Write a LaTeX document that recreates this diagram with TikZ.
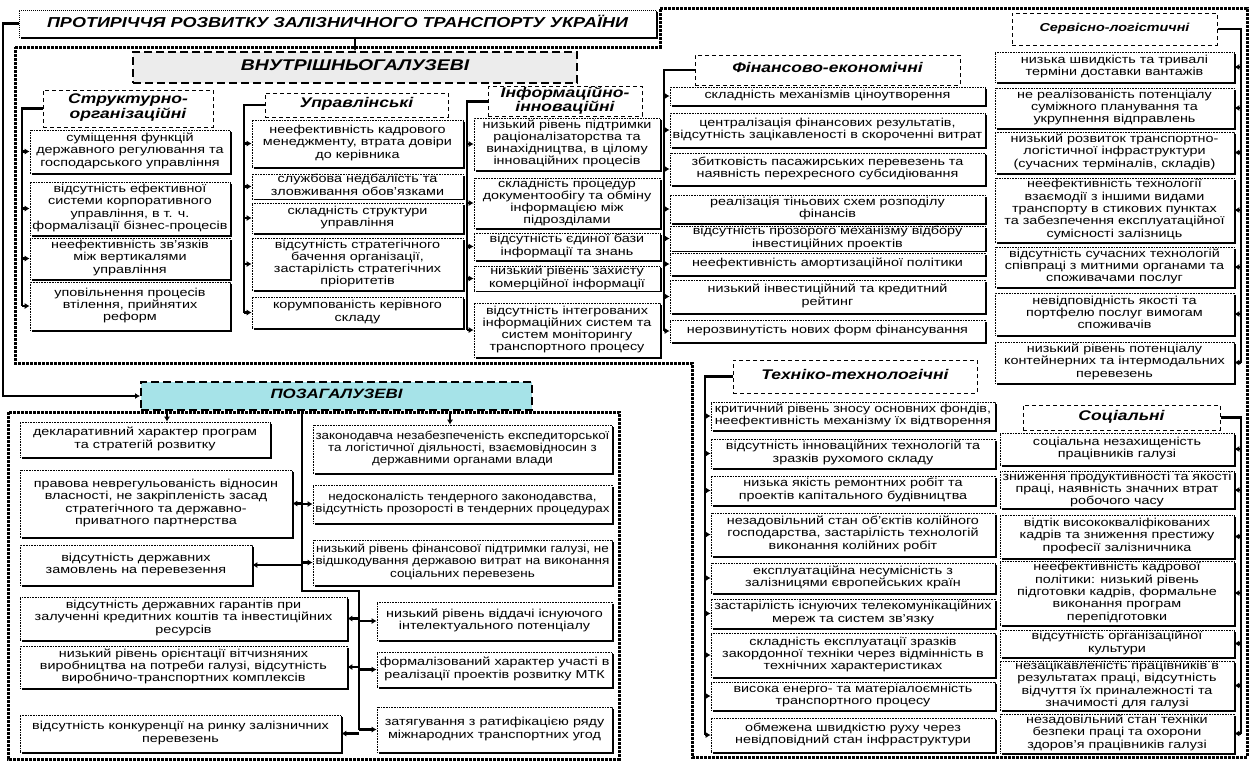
\documentclass[tikz,border=0pt]{standalone}
\usepackage{fontspec}
\setmainfont{Liberation Sans}[FakeStretch=1.25]
\usepackage{graphicx}
\usetikzlibrary{arrows.meta,shadows}
\pgfdeclarelayer{background}
\pgfsetlayers{background,main}
\definecolor{vgray}{HTML}{ECECEC}
\definecolor{pcyan}{HTML}{A6E3E8}
\newcommand\itf{\fontsize{11.5}{12.3}\selectfont}
\newcommand\hdf{\fontsize{14}{14.5}\selectfont\bfseries\itshape}
\newcommand\srvf{\fontsize{11.5}{12}\selectfont\bfseries\itshape}
\newcommand\ttf{\fontsize{14.4}{15}\selectfont\bfseries\itshape}
\newcommand\vf{\fontsize{15.5}{16}\selectfont\bfseries\itshape}
\newcommand\zf{\fontsize{13.5}{14}\selectfont\bfseries\itshape}
\newsavebox\fitsbox
\newdimen\fitw
\newcommand\fitt[2]{\fitw=#1\relax\sbox\fitsbox{\begin{tabular}{@{}c@{}}#2\end{tabular}}\ifdim\wd\fitsbox>\fitw\resizebox{\fitw}{\height}{\usebox\fitsbox}\else\usebox\fitsbox\fi}
\newcommand\bx[7][]{\node[itembox,minimum width={#5pt-#3pt},minimum height={#6pt-#4pt},#1] (#2) at ({(#3+#5)/2},{(#4+#6)/2}) {\fitt{\dimexpr#5pt-#3pt-5pt\relax}{#7}};}
\newcommand\hdr[7][]{\node[hdrbox,minimum width={#5pt-#3pt},minimum height={#6pt-#4pt},#1] (#2) at ({(#3+#5)/2},{(#4+#6)/2}) {\fitt{\dimexpr#5pt-#3pt-4pt\relax}{#7}};}
\tikzset{
  conn/.style={line width=2.6pt, black},
  arr/.style={conn, -{Latex[length=5pt,width=6pt]}},
  frame/.style={line width=3pt, dash pattern=on 3pt off 1pt, black},
  itembox/.style={draw, densely dotted, line width=0.6pt, fill=white, inner sep=0pt, font=\itf,
    drop shadow={shadow xshift=1.6pt, shadow yshift=-1.6pt, fill=black, opacity=1}},
  hdrbox/.style={draw, line width=1pt, dash pattern=on 4pt off 3pt, fill=white, inner sep=0pt, font=\hdf},
  titlebox/.style={densely dotted, line width=0.6pt, font=\ttf,
    drop shadow={shadow xshift=1.6pt, shadow yshift=-1.6pt, fill=black, opacity=1}},
  mainbox/.style={line width=2pt, dash pattern=on 8pt off 4pt},
}
\begin{document}
\begin{tikzpicture}[x=1pt,y=-1pt]
\begin{pgfonlayer}{background}
\fill[white] (0,0) rectangle (1252,761);
\end{pgfonlayer}
\useasboundingbox (0,0) rectangle (1252,761);

% frames
\draw[frame] (15,47) -- (660,47) -- (660,8) -- (1247,8) -- (1247,757) -- (692,757) -- (692,363) -- (15,363) -- cycle;
\draw[frame] (8,412) rectangle (619,759);

% title and main groups
\hdr[titlebox]{T}{19}{10}{656}{37}{ПРОТИРІЧЧЯ РОЗВИТКУ ЗАЛІЗНИЧНОГО ТРАНСПОРТУ УКРАЇНИ}
\hdr[mainbox,fill=vgray,font=\vf]{V}{133}{52}{577}{83}{ВНУТРІШНЬОГАЛУЗЕВІ}
\hdr[mainbox,fill=pcyan,font=\zf]{Z}{141}{382}{532}{410}{ПОЗАГАЛУЗЕВІ}

% headers
\hdr{S0}{43}{90}{213}{127}{Структурно-\\організаційні}
\hdr{U0}{265}{93}{448}{117}{Управлінські}
\hdr{I0}{488}{88}{642}{115}{Інформаційно-\\інноваційні}
\hdr{F0}{695}{55}{960}{85}{Фінансово-економічні}
\hdr[font=\srvf]{R0}{1012}{13}{1217}{45}{Сервісно-логістичні}
\hdr{K0}{733}{360}{977}{393}{Техніко-технологічні}
\hdr{C0}{1023}{405}{1220}{430}{Соціальні}

% structural
\bx{S1}{30}{130}{230}{173}{суміщення функцій\\державного регулювання та\\господарського управління}
\bx{S2}{30}{182}{230}{235}{відсутність ефективної\\системи корпоративного\\управління, в т. ч.\\формалізації бізнес-процесів}
\bx{S3}{30}{238}{230}{279}{неефективність зв’язків\\між вертикалями\\управління}
\bx{S4}{30}{282}{230}{330}{уповільнення процесів\\втілення, прийнятих\\реформ}

% management
\bx{U1}{252}{120}{463}{167}{неефективність кадрового\\менеджменту, втрата довіри\\до керівника}
\bx{U2}{252}{175}{463}{198}{службова недбалість та\\зловживання обов’язками}
\bx{U3}{252}{203}{463}{233}{складність структури\\управління}
\bx{U4}{252}{238}{463}{290}{відсутність стратегічного\\бачення організації,\\застарілість стратегічних\\пріоритетів}
\bx{U5}{252}{297}{463}{328}{корумпованість керівного\\складу}

% info
\bx{I1}{474}{118}{660}{170}{низький рівень підтримки\\раціоналізаторства та\\винахідництва, в цілому\\інноваційних процесів}
\bx{I2}{474}{178}{660}{228}{складність процедур\\документообігу та обміну\\інформацією між\\підрозділами}
\bx{I3}{474}{233}{660}{260}{відсутність єдиної бази\\інформації та знань}
\bx{I4}{474}{267}{660}{290}{низький рівень захисту\\комерційної інформації}
\bx{I5}{474}{303}{660}{357}{відсутність інтегрованих\\інформаційних систем та\\систем моніторингу\\транспортного процесу}

% finance
\bx{F1}{670}{87}{985}{105}{складність механізмів ціноутворення}
\bx{F2}{670}{113}{985}{147}{централізація фінансових результатів,\\відсутність зацікавленості в скороченні витрат}
\bx{F3}{670}{153}{985}{185}{збитковість пасажирських перевезень та\\наявність перехресного субсидіювання}
\bx{F4}{670}{195}{985}{223}{реалізація тіньових схем розподілу\\фінансів}
\bx{F5}{670}{227}{985}{250}{відсутність прозорого механізму відбору\\інвестиційних проектів}
\bx{F6}{670}{253}{985}{275}{неефективність амортизаційної політики}
\bx{F7}{670}{280}{985}{313}{низький інвестиційний та кредитний\\рейтинг}
\bx{F8}{670}{320}{985}{342}{нерозвинутість нових форм фінансування}

% service
\bx{R1}{995}{52}{1234}{82}{низька швидкість та тривалі\\терміни доставки вантажів}
\bx{R2}{995}{88}{1234}{128}{не реалізованість потенціалу\\суміжного планування та\\укрупнення відправлень}
\bx{R3}{995}{132}{1234}{173}{низький розвиток транспортно-\\логістичної інфраструктури\\(сучасних терміналів, складів)}
\bx{R4}{995}{178}{1234}{242}{неефективність технології\\взаємодії з іншими видами\\транспорту в стикових пунктах\\та забезпечення експлуатаційної\\сумісності залізниць}
\bx{R5}{995}{247}{1234}{287}{відсутність сучасних технологій\\співпраці з митними органами та\\споживачами послуг}
\bx{R6}{995}{293}{1234}{335}{невідповідність якості та\\портфелю послуг вимогам\\споживачів}
\bx{R7}{995}{342}{1234}{383}{низький рівень потенціалу\\контейнерних та інтермодальних\\перевезень}

% technical
\bx{K1}{711}{402}{995}{430}{критичний рівень зносу основних фондів,\\неефективність механізму їх відтворення}
\bx{K2}{711}{439}{995}{468}{відсутність інноваційних технологій та\\зразків рухомого складу}
\bx{K3}{711}{476}{995}{505}{низька якість ремонтних робіт та\\проектів капітального будівництва}
\bx{K4}{711}{513}{995}{556}{незадовільний стан об’єктів колійного\\господарства, застарілість технологій\\виконання колійних робіт}
\bx{K5}{711}{563}{995}{593}{експлуатаційна несумісність з\\залізницями європейських країн}
\bx{K6}{711}{599}{995}{628}{застарілість існуючих телекомунікаційних\\мереж та систем зв’язку}
\bx{K7}{711}{633}{995}{677}{складність експлуатації зразків\\закордонної техніки через відмінність в\\технічних характеристиках}
\bx{K8}{711}{682}{995}{710}{висока енерго- та матеріалоємність\\транспортного процесу}
\bx{K9}{711}{718}{995}{752}{обмежена швидкістю руху через\\невідповідний стан інфраструктури}

% social
\bx{C1}{1000}{433}{1234}{465}{соціальна незахищеність\\працівників галузі}
\bx{C2}{1000}{472}{1234}{508}{зниження продуктивності та якості\\праці, наявність значних втрат\\робочого часу}
\bx{C3}{1000}{515}{1234}{558}{відтік висококваліфікованих\\кадрів та зниження престижу\\професії залізничника}
\bx{C4}{1000}{561}{1234}{625}{неефективність кадрової\\політики: низький рівень\\підготовки кадрів, формальне\\виконання програм\\перепідготовки}
\bx{C5}{1000}{630}{1234}{657}{відсутність організаційної\\культури}
\bx{C6}{1000}{661}{1234}{710}{незацікавленість працівників в\\результатах праці, відсутність\\відчуття їх приналежності та\\значимості для галузі}
\bx{C7}{1000}{714}{1234}{753}{незадовільний стан техніки\\безпеки праці та охорони\\здоров’я працівників галузі}

% external left
\bx{E1}{20}{422}{270}{457}{декларативний характер програм\\та стратегій розвитку}
\bx{E2}{20}{470}{292}{537}{правова неврегульованість відносин\\власності, не закріпленість засад\\стратегічного та державно-\\приватного партнерства}
\bx{E3}{20}{545}{252}{585}{відсутність державних\\замовлень на перевезення}
\bx{E4}{20}{597}{347}{640}{відсутність державних гарантів при\\залученні кредитних коштів та інвестиційних\\ресурсів}
\bx{E5}{20}{646}{347}{688}{низький рівень орієнтації вітчизняних\\виробництва на потреби галузі, відсутність\\виробничо-транспортних комплексів}
\bx{E6}{20}{715}{341}{752}{відсутність конкуренції на ринку залізничних\\перевезень}

% external right
\bx{P1}{313}{425}{612}{473}{законодавча незабезпеченість експедиторської\\та логістичної діяльності, взаємовідносин з\\державними органами влади}
\bx{P2}{313}{485}{612}{523}{недосконалість тендерного законодавства,\\відсутність прозорості в тендерних процедурах}
\bx{P3}{313}{540}{612}{585}{низький рівень фінансової підтримки галузі, не\\відшкодування державою витрат на виконання\\соціальних перевезень}
\bx{P4}{377}{602}{612}{640}{низький рівень віддачі існуючого\\інтелектуального потенціалу}
\bx{P5}{377}{652}{612}{687}{формалізований характер участі в\\реалізації проектів розвитку МТК}
\bx{P6}{377}{707}{612}{752}{затягування з ратифікацією ряду\\міжнародних транспортних угод}

\begin{pgfonlayer}{background}
% title links
\coordinate (lx) at (3,0);
\draw[arr] (T.west) -- (T.west -| lx) |- (Z.west);
\draw[arr] (V.north |- T.south) -- (V.north);
% structural
\coordinate (sx) at (22,0);
\draw[conn] (S0.west) -- (S0.west -| sx) -- (S4.west -| sx);
\foreach \n in {S1,S2,S3,S4} \draw[arr] (\n.west -| sx) -- (\n.west);
% management
\coordinate (ux) at (244,0);
\draw[conn] (U0.west) -- (U0.west -| ux) -- (U5.west -| ux);
\foreach \n in {U1,U2,U3,U4,U5} \draw[arr] (\n.west -| ux) -- (\n.west);
% info
\coordinate (ix) at (467,0);
\draw[conn] (I0.west) -- (I0.west -| ix) -- (I5.west -| ix);
\foreach \n in {I1,I2,I3,I4,I5} \draw[arr] (\n.west -| ix) -- (\n.west);
% finance
\coordinate (fx) at (664,0);
\draw[conn] (F0.west) -- (F0.west -| fx) -- (F8.west -| fx);
\foreach \n in {F1,F2,F3,F4,F5,F6,F7,F8} \draw[arr] (\n.west -| fx) -- (\n.west);
% service
\coordinate (rx) at (1241,0);
\draw[conn] (R0.east) -- (R0.east -| rx) -- (R7.east -| rx);
\foreach \n in {R1,R2,R3,R4,R5,R6,R7} \draw[arr] (\n.east -| rx) -- (\n.east);
% technical
\coordinate (kx) at (705,0);
\draw[conn] (K0.west) -- (K0.west -| kx) -- (K9.west -| kx);
\foreach \n in {K1,K2,K3,K4,K5,K6,K7,K8,K9} \draw[arr] (\n.west -| kx) -- (\n.west);
% social
\coordinate (cx) at (1241,0);
\draw[conn] (C0.east) -- (C0.east -| cx) -- (C7.east -| cx);
\foreach \n in {C1,C2,C3,C4,C5,C6,C7} \draw[arr] (\n.east -| cx) -- (\n.east);
% external
\coordinate (zx1) at (167,0);
\coordinate (zx2) at (450,0);
\draw[arr] (Z.south -| zx1) -- (E1.north -| zx1);
\draw[arr] (Z.south -| zx2) -- (P1.north -| zx2);
\coordinate (eb1) at (302,591);
\coordinate (eb2) at (359,591);
\draw[conn] (Z.south -| eb1) -- (eb1) -- (eb2) -- (P6.west -| eb2);
\foreach \n in {E2,E3} \draw[arr] (\n.east -| eb1) -- (\n.east);
\foreach \n in {P2,P3} \draw[arr] (\n.west -| eb1) -- (\n.west);
\foreach \n in {E4,E5,E6} \draw[arr] (\n.east -| eb2) -- (\n.east);
\foreach \n in {P4,P5,P6} \draw[arr] (\n.west -| eb2) -- (\n.west);
\end{pgfonlayer}
\end{tikzpicture}
\end{document}
